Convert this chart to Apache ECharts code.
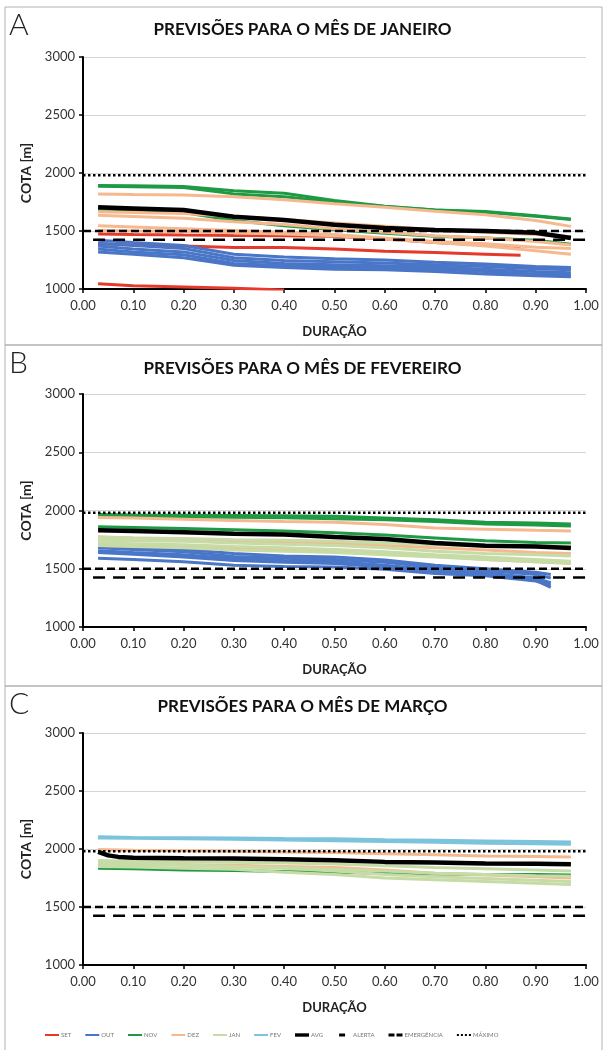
<!DOCTYPE html>
<html>
<head>
<meta charset="utf-8">
<script src="https://cdn.jsdelivr.net/npm/echarts@6/dist/echarts.min.js"></script>
<style>
html,body{margin:0;padding:0;background:#fff;}
#chart{width:605px;height:1050px;}
</style>
</head>
<body>
<div id="chart"></div>
<script>
// ---------- data ----------
const PANEL_TITLES = ['PREVISÕES PARA O MÊS DE JANEIRO', 'PREVISÕES PARA O MÊS DE FEVEREIRO', 'PREVISÕES PARA O MÊS DE MARÇO'];
const PANEL_LETTERS = ['A', 'B', 'C'];
const X_TICKS = [0, 0.1, 0.2, 0.3, 0.4, 0.5, 0.6, 0.7, 0.8, 0.9, 1.0];
const Y_TICKS = [1000, 1500, 2000, 2500, 3000];
const LEGEND_NAMES = ['SET', 'OUT', 'NOV', 'DEZ', 'JAN', 'FEV', 'AVG', 'ALERTA', 'EMERGÊNCIA', 'MÁXIMO'];

const X = [0.03, 0.1, 0.2, 0.3, 0.4, 0.5, 0.6, 0.7, 0.8, 0.9, 0.97];
const X_A_SET = [0.03, 0.1, 0.2, 0.3, 0.4, 0.5, 0.6, 0.7, 0.8, 0.87];
const X_A_SET_LOW = [0.03, 0.1, 0.2, 0.3, 0.4];
const X_B_OUT = [0.03, 0.1, 0.2, 0.3, 0.4, 0.5, 0.6, 0.7, 0.8, 0.9, 0.93];
const X_C_AVG = [0.03, 0.05, 0.07, 0.1, 0.2, 0.3, 0.4, 0.5, 0.6, 0.7, 0.8, 0.9, 0.97];

const ALERTA = 1500;
const EMERGENCIA = 1425;
const MAXIMO = 1980;

// Panel A - January
const A_SET = [
  [1475, 1470, 1465, 1462, 1460, 1455, 1430, 1400, 1380, 1365],
  [1390, 1380, 1370, 1358, 1358, 1345, 1325, 1315, 1300, 1290]
];
const A_SET_LOW = [1046, 1028, 1017, 1006, 992];
const A_OUT = [
  [1420, 1400, 1375, 1300, 1275, 1260, 1250, 1230, 1215, 1195, 1185],
  [1395, 1375, 1350, 1270, 1245, 1235, 1225, 1210, 1195, 1175, 1165],
  [1370, 1345, 1320, 1245, 1220, 1210, 1200, 1190, 1170, 1150, 1140],
  [1345, 1320, 1295, 1220, 1200, 1190, 1180, 1170, 1150, 1130, 1120],
  [1320, 1300, 1270, 1205, 1185, 1170, 1165, 1150, 1130, 1115, 1105]
];
const A_NOV = [
  [1892, 1890, 1883, 1848, 1825, 1762, 1713, 1681, 1668, 1632, 1603],
  [1885, 1882, 1875, 1820, 1795, 1750, 1712, 1680, 1662, 1628, 1598],
  [1690, 1680, 1660, 1590, 1545, 1510, 1480, 1455, 1440, 1420, 1385]
];
const A_DEZ = [
  [1820, 1815, 1810, 1795, 1770, 1735, 1705, 1670, 1640, 1590, 1540],
  [1665, 1660, 1650, 1625, 1600, 1570, 1540, 1510, 1490, 1470, 1450],
  [1635, 1625, 1610, 1580, 1555, 1520, 1490, 1460, 1440, 1410, 1380],
  [1545, 1535, 1520, 1505, 1490, 1470, 1440, 1410, 1390, 1360, 1350],
  [1505, 1500, 1495, 1485, 1475, 1460, 1430, 1400, 1370, 1330, 1300]
];
const A_AVG = [1704, 1695, 1681, 1623, 1595, 1554, 1525, 1508, 1500, 1485, 1440];

// Panel B - February
const B_OUT = [
  [1700, 1685, 1665, 1630, 1610, 1600, 1575, 1530, 1500, 1470, 1450],
  [1680, 1665, 1645, 1605, 1590, 1580, 1555, 1510, 1485, 1450, 1420],
  [1655, 1640, 1620, 1585, 1570, 1560, 1530, 1490, 1465, 1420, 1380],
  [1640, 1625, 1600, 1570, 1555, 1545, 1515, 1475, 1450, 1400, 1340],
  [1590, 1580, 1560, 1530, 1520, 1515, 1495, 1460, 1440, 1395, 1360]
];
const B_NOV = [
  [1965, 1962, 1960, 1958, 1955, 1950, 1935, 1920, 1900, 1892, 1885],
  [1950, 1948, 1945, 1942, 1938, 1930, 1920, 1905, 1885, 1875, 1868],
  [1860, 1855, 1845, 1835, 1825, 1810, 1790, 1765, 1740, 1725, 1720]
];
const B_DEZ = [
  [1940, 1935, 1925, 1915, 1905, 1900, 1880, 1850, 1840, 1830, 1825],
  [1775, 1765, 1755, 1740, 1730, 1720, 1700, 1680, 1660, 1640, 1630],
  [1700, 1695, 1690, 1680, 1670, 1660, 1640, 1610, 1580, 1560, 1545]
];
const B_JAN = [
  [1770, 1765, 1760, 1750, 1745, 1735, 1720, 1705, 1700, 1700, 1695],
  [1745, 1740, 1735, 1720, 1710, 1700, 1680, 1650, 1630, 1620, 1610],
  [1720, 1715, 1705, 1690, 1680, 1665, 1645, 1620, 1600, 1580, 1565],
  [1700, 1690, 1680, 1660, 1650, 1640, 1620, 1600, 1580, 1560, 1550]
];
const B_AVG = [1830, 1825, 1813, 1801, 1793, 1772, 1755, 1721, 1698, 1692, 1678];

// Panel C - March
const C_NOV = [
  [1835, 1830, 1820, 1815, 1805, 1800, 1790, 1785, 1780, 1780, 1775]
];
const C_DEZ = [
  [1995, 1990, 1985, 1980, 1975, 1970, 1960, 1950, 1940, 1935, 1930],
  [1870, 1870, 1865, 1860, 1850, 1840, 1820, 1790, 1775, 1760, 1750]
];
const C_JAN = [
  [1900, 1895, 1890, 1885, 1880, 1870, 1855, 1840, 1830, 1820, 1810],
  [1880, 1875, 1865, 1850, 1835, 1810, 1780, 1760, 1745, 1730, 1720],
  [1870, 1865, 1860, 1850, 1840, 1825, 1810, 1790, 1780, 1770, 1765],
  [1850, 1845, 1835, 1825, 1800, 1780, 1750, 1735, 1720, 1705, 1695]
];
const C_FEV = [
  [2105, 2100, 2098, 2095, 2090, 2088, 2080, 2075, 2070, 2065, 2060],
  [2095, 2092, 2088, 2083, 2078, 2072, 2065, 2058, 2050, 2045, 2040]
];
const C_AVG = [1975, 1945, 1932, 1924, 1920, 1918, 1912, 1904, 1889, 1884, 1875, 1872, 1869];

// ---------- styles ----------
const COLORS = {SET:'#e53a2b', OUT:'#4a76c8', NOV:'#1f9a44', DEZ:'#f6b98f', JAN:'#c6dba6', FEV:'#7cc3dc', AVG:'#000000',
  'ALERTA':'#000000', 'EMERGÊNCIA':'#000000', 'MÁXIMO':'#000000'};
const ICONS = {
  SET: 'path://M0,0M14,6M0,2H14V4H0Z',
  OUT: 'path://M0,0M14,6M0,2H14V4H0Z',
  NOV: 'path://M0,0M14,6M0,2H14V4H0Z',
  DEZ: 'path://M0,0M14,6M0,2H14V4H0Z',
  JAN: 'path://M0,0M14,6M0,2H14V4H0Z',
  FEV: 'path://M0,0M14,6M0,2H14V4H0Z',
  AVG: 'path://M0,0M14,6M0,1.3H14V4.7H0Z',
  'ALERTA': 'path://M0,0M14,6M2,1.5H8V4.5H2Z',
  'EMERGÊNCIA': 'path://M0,0M14,6M0,1.5H6V4.5H0Z M8,1.5H14V4.5H8Z',
  'MÁXIMO': 'path://M0,0M14,6M0,2H2V4H0Z M4,2H6V4H4Z M8,2H10V4H8Z M12,2H14V4H12Z'
};
const FONT = 'Lato';
const GRIDS = [
  {left: 83, right: 19, top: 57, height: 232},
  {left: 83, right: 19, top: 394, height: 233},
  {left: 83, right: 19, top: 733, height: 232}
];
const TITLE_TOPS = [21, 360, 698];
const BOXES = [[5, 7, 597, 338], [5, 345, 597, 341], [5, 686, 597, 370]];

const series = [];
function addLines(arrs, xs, name, gi, width) {
  arrs.forEach(a => {
    series.push({
      type: 'line', name: name, xAxisIndex: gi, yAxisIndex: gi,
      data: xs.map((x, i) => [x, a[i]]),
      symbol: 'none', showSymbol: false, silent: true, clip: true,
      lineStyle: {color: COLORS[name], width: width || 3},
      itemStyle: {color: COLORS[name]}
    });
  });
}
function addRef(gi) {
  series.push({type:'line', name:'ALERTA', xAxisIndex:gi, yAxisIndex:gi, data:[[0, ALERTA],[1, ALERTA]],
    symbol:'none', silent:true, lineStyle:{color:'#000', width:2.5, type:[8,4]}, itemStyle:{color:'#000'}, z:5});
  series.push({type:'line', name:'EMERGÊNCIA', xAxisIndex:gi, yAxisIndex:gi, data:[[0.02, EMERGENCIA],[1, EMERGENCIA]],
    symbol:'none', silent:true, lineStyle:{color:'#000', width:2.5, type:[12,8]}, itemStyle:{color:'#000'}, z:5});
  series.push({type:'line', name:'MÁXIMO', xAxisIndex:gi, yAxisIndex:gi, data:[[0, MAXIMO],[1, MAXIMO]],
    symbol:'none', silent:true, lineStyle:{color:'#000', width:2.5, type:[2.5,2.5]}, itemStyle:{color:'#000'}, z:5});
}

// Panel A
addLines(A_SET, X_A_SET, 'SET', 0);
addLines([A_SET_LOW], X_A_SET_LOW, 'SET', 0);
addLines(A_OUT, X, 'OUT', 0);
addLines(A_NOV, X, 'NOV', 0);
addLines(A_DEZ, X, 'DEZ', 0);
addLines([A_AVG], X, 'AVG', 0, 4.5);
addRef(0);
// Panel B
addLines(B_OUT, X_B_OUT, 'OUT', 1);
addLines(B_NOV, X, 'NOV', 1);
addLines(B_DEZ, X, 'DEZ', 1);
addLines(B_JAN, X, 'JAN', 1);
addLines([B_AVG], X, 'AVG', 1, 4.5);
addRef(1);
// Panel C
addLines(C_NOV, X, 'NOV', 2);
addLines(C_DEZ, X, 'DEZ', 2);
addLines(C_JAN, X, 'JAN', 2);
addLines(C_FEV, X, 'FEV', 2);
addLines([C_AVG], X_C_AVG, 'AVG', 2, 4.5);
addRef(2);

const xAxes = GRIDS.map((g, i) => ({
  type: 'value', gridIndex: i, min: 0, max: 1, interval: 0.1,
  name: 'DURAÇÃO', nameLocation: 'middle', nameGap: 36,
  nameTextStyle: {fontFamily: FONT, fontWeight: 'bold', fontSize: 13, color: '#222'},
  axisLine: {show: true, onZero: false, lineStyle: {color: '#000', width: 2}},
  axisTick: {show: true, length: 4, lineStyle: {color: '#000', width: 1.5}},
  axisLabel: {fontFamily: FONT, fontSize: 13, color: '#333', margin: 10, formatter: v => v.toFixed(2)},
  splitLine: {show: false}
}));
const yAxes = GRIDS.map((g, i) => ({
  type: 'value', gridIndex: i, min: Y_TICKS[0], max: Y_TICKS[Y_TICKS.length - 1], interval: 500,
  name: 'COTA [m]', nameLocation: 'middle', nameGap: 50,
  nameTextStyle: {fontFamily: FONT, fontWeight: 'bold', fontSize: 14, color: '#222'},
  axisLine: {show: true, lineStyle: {color: '#000', width: 2}},
  axisTick: {show: true, length: 4, lineStyle: {color: '#000', width: 1.5}},
  axisLabel: {fontFamily: FONT, fontSize: 13, color: '#333', margin: 8, formatter: v => String(v)},
  splitLine: {show: true, lineStyle: {color: '#d4d4d4', width: 1}}
}));

const graphics = [];
BOXES.forEach(b => graphics.push({type:'rect', shape:{x:b[0], y:b[1], width:b[2], height:b[3]},
  style:{fill:'none', stroke:'#b0b0b0', lineWidth:1}, silent:true, z:-1}));
PANEL_LETTERS.forEach((l, i) => graphics.push({type:'text', x: 9, y: BOXES[i][1] + 3,
  style:{text:l, font:'300 30px Lato', fill:'#222', verticalAlign:'top'}, silent:true}));

const option = {
  backgroundColor: '#fff',
  animation: false,
  title: PANEL_TITLES.map((t, i) => ({text: t, left: 'center', top: TITLE_TOPS[i], padding: 0,
    textStyle: {fontFamily: FONT, fontWeight: 'bold', fontSize: 17, color: '#111'}})),
  legend: {
    data: LEGEND_NAMES.map(n => ({name: n, icon: ICONS[n], itemStyle: {color: COLORS[n], borderWidth: 0}})),
    bottom: 7, left: 40, itemWidth: 14, itemHeight: 6, itemGap: 14,
    textStyle: {fontFamily: FONT, fontSize: 6, color: '#777', padding: [0, 0, 0, -3]}, selectedMode: false
  },
  grid: GRIDS,
  xAxis: xAxes,
  yAxis: yAxes,
  graphic: graphics,
  series: series
};
const chart = echarts.init(document.getElementById('chart'), null, {renderer: 'canvas'});
chart.setOption(option);
</script>
</body>
</html>
